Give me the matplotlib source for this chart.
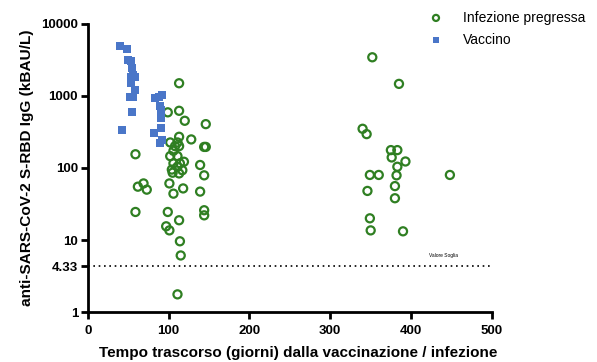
import matplotlib.pyplot as plt
import matplotlib.ticker as mtick

GREEN = "#2F7F22"
BLUE = "#4A76C8"

# Vaccinated group: days since vaccination, IgG (kBAU/L)
vacc_days = [40, 49, 50, 53, 55, 56, 58, 54, 53, 58, 52, 56, 55, 42,
             83, 88, 92, 89, 91, 91, 91, 82, 92, 89]
vacc_igg = [4940, 4450, 3160, 3090, 2420, 1950, 1850, 1820, 1500, 1210, 975, 975, 603, 336,
            927, 975, 1030, 725, 637, 489, 354, 302, 244, 219]

# Previous infection group: days since infection, IgG (kBAU/L)
inf_days = [113, 113, 99, 120, 146,
            113, 128, 102, 111, 108, 113, 144, 146, 59, 106, 102, 111, 119, 106, 114, 139,
            111, 104, 117, 144, 105, 113, 69, 62, 73, 101, 118, 106, 139, 59, 99, 144, 144,
            113, 97, 101, 114, 115, 111,
            352, 385, 340, 345, 375, 383, 376, 393, 383, 349, 360, 382, 448, 380, 346, 380,
            349, 350, 390]
inf_igg = [1500, 622, 592, 452, 406,
           271, 249, 226, 226, 201, 201, 196, 196, 155, 173, 146, 146, 122, 116, 116, 110,
           104, 95, 93, 79, 86, 84, 61, 55, 50, 61, 52, 44, 47, 24.5, 24.5, 25.9, 22,
           18.8, 15.5, 13.6, 9.6, 6.1, 1.76,
           3440, 1470, 350, 295, 177, 177, 140, 123, 104, 80, 80, 79, 80, 56, 48, 38,
           20, 13.6, 13.2]

threshold = 4.33
y_ticks = [1, 4.33, 10, 100, 1000, 10000]
y_tick_labels = ["1", "4.33", "10", "100", "1000", "10000"]
x_ticks = [0, 100, 200, 300, 400, 500]

plt.rcParams["font.family"] = ["Liberation Sans", "DejaVu Sans"]

fig = plt.figure(figsize=(5.97, 3.62), dpi=100)
ax = fig.add_axes([0.147, 0.138, 0.677, 0.796])

ax.scatter(inf_days, inf_igg, s=34, facecolors="none", edgecolors=GREEN,
           linewidths=1.6, marker="o", label="Infezione pregressa", zorder=3)
ax.scatter(vacc_days, vacc_igg, s=28, color=BLUE, marker="s", linewidths=0,
           label="Vaccino", zorder=3)

ax.plot([0, 500], [threshold, threshold], color="black", linestyle=(0, (1, 2.2)),
        linewidth=1.2, zorder=2)
ax.text(440, 5.6, "Valore Soglia", fontsize=3.5, ha="center", va="bottom")

ax.set_yscale("log")
ax.set_ylim(1, 10000)
ax.set_xlim(0, 500)
ax.set_yticks(y_ticks)
ax.set_yticklabels(y_tick_labels)
ax.yaxis.set_minor_locator(mtick.NullLocator())
ax.set_xticks(x_ticks)

for side in ["top", "right"]:
    ax.spines[side].set_visible(False)
for side in ["left", "bottom"]:
    ax.spines[side].set_linewidth(2)
ax.tick_params(axis="both", width=2, length=5, labelsize=9.5, pad=2)
ax.tick_params(axis="x", pad=4)
for lbl in ax.get_xticklabels() + ax.get_yticklabels():
    lbl.set_fontweight("bold")

ax.set_xlabel("Tempo trascorso (giorni) dalla vaccinazione / infezione",
              fontsize=11, fontweight="bold", labelpad=7)
ax.xaxis.label.set_x(0.52)
ax.set_ylabel("anti-SARS-CoV-2 S-RBD IgG (kBAU/L)",
              fontsize=11.1, fontweight="bold", labelpad=5)

fig.legend(loc="upper left", bbox_to_anchor=(0.707, 0.99), frameon=False,
           fontsize=10, borderpad=0, handlelength=1.0, handletextpad=1.44,
           labelspacing=0.6, markerscale=0.75)

fig.savefig("out.png", dpi=100, facecolor="white")
